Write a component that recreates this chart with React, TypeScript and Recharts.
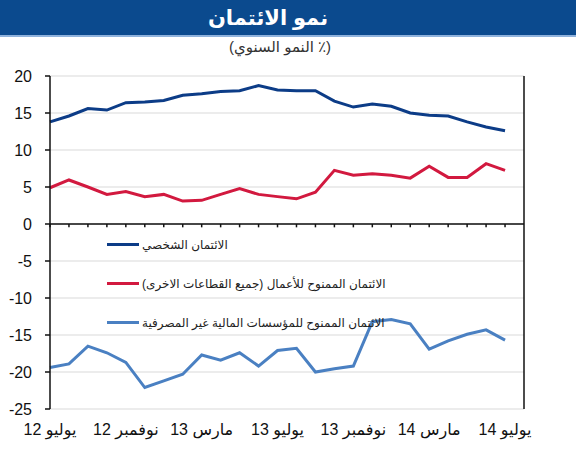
import {
  CartesianGrid,
  Legend,
  Line,
  LineChart,
  ReferenceLine,
  XAxis,
  YAxis,
} from "recharts";

// Annual credit growth (%), monthly from July 2012 to July 2014.
const TICK_LABELS = [
  "يوليو 12",
  "نوفمبر 12",
  "مارس 13",
  "يوليو 13",
  "نوفمبر 13",
  "مارس 14",
  "يوليو 14",
];
const Y_TICKS = [-25, -20, -15, -10, -5, 0, 5, 10, 15, 20];

const SERIES_NAMES = [
  "الائتمان الشخصي",
  "الائتمان الممنوح للأعمال (جميع القطاعات الاخرى)",
  "الائتمان الممنوح للمؤسسات المالية غير المصرفية",
];

const PERSONAL = [
  13.8, 14.6, 15.6, 15.4, 16.4, 16.5, 16.7, 17.4, 17.6, 17.9, 18.0, 18.7, 18.1,
  18.0, 18.0, 16.6, 15.8, 16.2, 15.9, 15.0, 14.7, 14.6, 13.8, 13.1, 12.6,
];
const BUSINESS = [
  4.9, 5.95, 5.0, 4.0, 4.4, 3.7, 4.0, 3.1, 3.2, 4.0, 4.8, 4.0, 3.7, 3.4, 4.3,
  7.25, 6.6, 6.8, 6.6, 6.2, 7.8, 6.3, 6.3, 8.15, 7.25,
];
const NON_BANK = [
  -19.4, -18.9, -16.5, -17.4, -18.7, -22.1, -21.2, -20.3, -17.7, -18.4, -17.4,
  -19.2, -17.1, -16.8, -20.0, -19.55, -19.2, -13.2, -12.9, -13.5, -16.9, -15.8,
  -14.9, -14.3, -15.7,
];

const NAVY = "#0c3c87";
const RED = "#d2193f";
const SKY = "#4a80c2";
const FONT = '"Liberation Sans", Arial, "DejaVu Sans", sans-serif';

const data = PERSONAL.map((v, i) => ({
  i,
  personal: v,
  business: BUSINESS[i],
  nonBank: NON_BANK[i],
}));

const tickStyle = { fontSize: 16, fill: "#111", fontFamily: FONT };

function LegendBox({ payload }: any) {
  return (
    <div style={{ fontFamily: FONT, fontSize: 12, color: "#222" }}>
      {(payload || []).map((p: any) => (
        <div
          key={p.value}
          style={{ display: "flex", alignItems: "center", height: 39 }}
        >
          <span
            style={{
              display: "inline-block",
              width: 32,
              height: 3,
              background: p.color,
              marginRight: 3,
            }}
          />
          <span dir="rtl">{p.value}</span>
        </div>
      ))}
    </div>
  );
}

export default function App() {
  return (
    <div
      style={{
        position: "absolute",
        left: 0,
        top: 0,
        width: 576,
        height: 450,
        background: "#fff",
        fontFamily: FONT,
      }}
    >
      <div
        style={{
          position: "absolute",
          left: 0,
          top: 0,
          width: 576,
          height: 35,
          background: "#0b4a8e",
          borderBottom: "2px solid #8fb2dc",
          color: "#fff",
          fontWeight: "bold",
          fontSize: 21,
          lineHeight: "35px",
          textAlign: "center",
        }}
      >
        <span dir="rtl" style={{ position: "relative", left: -20 }}>
          نمو الائتمان
        </span>
      </div>
      <div
        dir="rtl"
        style={{
          position: "absolute",
          left: 0,
          top: 37,
          width: 576,
          textAlign: "center",
          fontSize: 15,
          color: "#333",
          lineHeight: "20px",
        }}
      >
        <span style={{ position: "relative", right: 8 }}>(٪ النمو السنوي)</span>
      </div>
      <div style={{ position: "absolute", left: 0, top: 0 }}>
        <LineChart
          width={576}
          height={450}
          data={data}
          margin={{ top: 76, right: 0, left: 0, bottom: 11 }}
        >
          <CartesianGrid
            yAxisId="left"
            vertical={false}
            stroke="#e6e6e6"
            strokeWidth={1.5}
          />
          <XAxis
            dataKey="i"
            type="number"
            domain={[0, 25]}
            ticks={TICK_LABELS.map((_, k) => k * 4)}
            tickFormatter={(v: number) => TICK_LABELS[v / 4]}
            axisLine={false}
            tickLine={false}
            tickSize={0}
            tickMargin={15}
            height={30}
            tick={tickStyle}
            interval={0}
          />
          <YAxis
            yAxisId="left"
            orientation="left"
            domain={[-25, 20]}
            ticks={Y_TICKS}
            width={50}
            tick={tickStyle}
            tickSize={5}
            tickMargin={13}
            axisLine={{ stroke: "#111", strokeWidth: 1.5 }}
            tickLine={{ stroke: "#111", strokeWidth: 1.5 }}
            interval={0}
          />
          <YAxis
            yAxisId="right"
            orientation="right"
            domain={[-25, 20]}
            ticks={Y_TICKS}
            width={52}
            tick={tickStyle}
            tickSize={5}
            tickMargin={11}
            axisLine={{ stroke: "#111", strokeWidth: 1.5 }}
            tickLine={{ stroke: "#111", strokeWidth: 1.5 }}
            interval={0}
          />
          <ReferenceLine
            yAxisId="left"
            y={0}
            stroke="#111"
            strokeWidth={1.5}
          />
          {data.map((d) => (
            <ReferenceLine
              key={d.i}
              yAxisId="left"
              segment={[
                { x: d.i, y: 0 },
                { x: d.i, y: -0.45 },
              ]}
              stroke="#111"
              strokeWidth={1.5}
            />
          ))}
          <Line
            yAxisId="left"
            dataKey="personal"
            name={SERIES_NAMES[0]}
            stroke={NAVY}
            strokeWidth={3}
            dot={false}
            isAnimationActive={false}
          />
          <Line
            yAxisId="left"
            dataKey="business"
            name={SERIES_NAMES[1]}
            stroke={RED}
            strokeWidth={3}
            dot={false}
            isAnimationActive={false}
          />
          <Line
            yAxisId="left"
            dataKey="nonBank"
            name={SERIES_NAMES[2]}
            stroke={SKY}
            strokeWidth={3}
            dot={false}
            isAnimationActive={false}
          />
          <Legend
            layout="vertical"
            align="center"
            verticalAlign="middle"
            content={<LegendBox />}
            wrapperStyle={{
              position: "absolute",
              left: 107,
              top: 225,
              width: 320,
            }}
          />
        </LineChart>
      </div>
    </div>
  );
}
